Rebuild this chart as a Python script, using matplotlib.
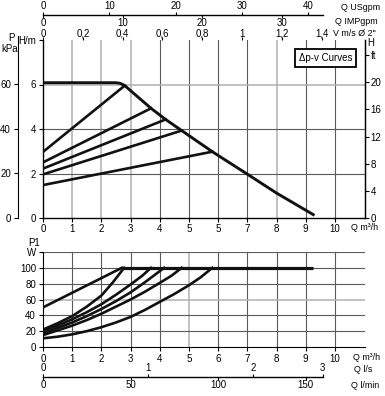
import matplotlib.pyplot as plt

plt.rcParams['font.family'] = ['Liberation Sans', 'DejaVu Sans']
plt.rcParams['font.size'] = 7

# ---- top chart: head H [m] against flow Q [m3/h] ----
max_q = [0, 2.5, 2.65, 2.8, 3.7, 4.2, 4.75, 5.8, 7.0, 8.0, 9.3]
max_h = [6.08, 6.08, 6.05, 5.95, 4.93, 4.43, 3.93, 2.98, 1.97, 1.12, 0.12]

# proportional pressure lines: head at Q=0 -> point on the max curve
dp_start_h = [2.97, 2.5, 2.22, 1.96, 1.48]
dp_end_q = [2.8, 3.7, 4.2, 4.75, 5.8]
dp_end_h = [5.95, 4.93, 4.43, 3.93, 2.98]

# ---- bottom chart: input power P1 [W] ----
p1_flat_q = [2.7, 9.25]
p1_flat_w = [100, 100]
p1_q = [
    [0, 2.7],
    [0, 0.5, 1, 1.5, 2, 2.4, 2.78],
    [0, 0.5, 1, 1.5, 2, 2.5, 3, 3.4, 3.7],
    [0, 0.5, 1, 1.5, 2, 2.5, 3, 3.5, 4.15],
    [0, 0.5, 1, 1.5, 2, 2.5, 3, 3.5, 4, 4.4, 4.75],
    [0, 0.5, 1, 1.5, 2, 2.5, 3, 3.5, 4, 4.5, 5, 5.4, 5.8],
]
p1_w = [
    [50, 100],
    [22, 30, 39, 51, 65, 82, 100],
    [20, 27, 35, 44, 54, 66, 79, 90, 100],
    [17, 24, 31, 39, 48, 58, 69, 82, 100],
    [15, 21, 27, 34, 42, 51, 60, 70, 81, 90, 100],
    [11, 13, 16, 20, 25, 31, 38, 47, 57, 67, 78, 88, 100],
]

q_ticks = list(range(0, 11))
top_q_labels = ['0', '1', '2', '3', '4', '5', '5', '7', '8', '9', '10']
h_ticks = [0, 2, 4, 6]
kpa_ticks = [0, 20, 40, 60]
ft_ticks = [0, 4, 8, 12, 16, 20]
w_ticks = [0, 20, 40, 60, 80, 100]

# secondary flow scales (value, position in m3/h)
usgpm_ticks = [0, 10, 20, 30, 40]
impgpm_ticks = [0, 10, 20, 30]
v_ticks = [0, 0.2, 0.4, 0.6, 0.8, 1.0, 1.2, 1.4]
v_labels = ['0', '0,2', '0,4', '0,6', '0,8', '1', '1,2', '1,4']
ls_ticks = [0, 1, 2, 3]
ls_pos = [0, 3.6, 7.2, 9.58]
lmin_ticks = [0, 50, 100, 150]

US_TO_Q = 0.2271
IMP_TO_Q = 0.2728
V_TO_Q = 6.82
LMIN_TO_Q = 0.06
M_TO_FT = 3.281

W, H = 385, 396
QMAX = 11.03
LEFT, WIDTH = 43 / W, 322 / W
DARK = '#5a5a5a'
LIGHT = '#b0b0b0'
SIDE = 6.4  # font size of the unit labels at the right


def fy(py):
    return 1 - py / H


def fx(px):
    return px / W


def scale_line(ypx, ticks_top, labels_top, ticks_bot, labels_bot):
    # thin axes used as a plain horizontal scale with ticks on both sides
    top = fig.add_axes([LEFT, fy(ypx), WIDTH, 0.0001])
    top.set_xlim(0, QMAX)
    top.set_yticks([])
    for s in ('left', 'right', 'bottom'):
        top.spines[s].set_visible(False)
    top.spines['top'].set_bounds(0, 9.6)
    top.spines['top'].set_linewidth(1.0)
    top.xaxis.set_ticks_position('top')
    top.set_xticks(ticks_top)
    top.set_xticklabels(labels_top)
    top.tick_params(length=2, width=0.8, pad=0.5)

    bot = fig.add_axes([LEFT, fy(ypx), WIDTH, 0.0001])
    bot.set_xlim(0, QMAX)
    bot.set_yticks([])
    bot.patch.set_visible(False)
    for s in ('left', 'right', 'top', 'bottom'):
        bot.spines[s].set_visible(False)
    bot.set_xticks(ticks_bot)
    bot.set_xticklabels(labels_bot)
    bot.tick_params(length=2, width=0.8, pad=0.3)


fig = plt.figure(figsize=(W / 100, H / 100), dpi=100)

# ================= top chart =================
ax1 = fig.add_axes([LEFT, fy(218), WIDTH, (218 - 40) / H])
ax1.set_xlim(0, QMAX)
ax1.set_ylim(0, 8)
for q in q_ticks[1:]:
    light = q in (1, 2, 3, 8)
    ax1.axvline(q, color=LIGHT if light else DARK, lw=1.1 if light else 0.8, zorder=1)
for h in h_ticks[1:]:
    light = h == 6
    ax1.axhline(h, color=LIGHT if light else DARK, lw=1.1 if light else 0.8, zorder=1)

ax1.plot(max_q, max_h, color='#111', lw=2.1, solid_capstyle='butt', zorder=3)
for h0, q1, h1 in zip(dp_start_h, dp_end_q, dp_end_h):
    ax1.plot([0, q1], [h0, h1], color='#111', lw=1.9, zorder=3)

ax1.spines['top'].set_visible(False)
for s in ('left', 'bottom', 'right'):
    ax1.spines[s].set_linewidth(1.0)
ax1.set_xticks(q_ticks)
ax1.set_xticklabels(top_q_labels)
ax1.set_yticks(h_ticks + [8])
ax1.set_yticklabels([str(v) for v in h_ticks] + ['H/m'])
ax1.tick_params(axis='x', length=3, width=0.8, pad=1)
ax1.tick_params(axis='y', length=3, width=0.8, pad=2)
fig.text(fx(378), fy(227.5), 'Q m³/h', ha='right', va='center', fontsize=SIDE)

ax1.text(0.96, 0.9, 'Δp-v Curves', transform=ax1.transAxes, ha='right', va='center',
         fontsize=7, bbox=dict(boxstyle='square,pad=0.4', fc='white', ec='black', lw=1.3))

# kPa axis on the far left
ax_kpa = ax1.twinx()
ax_kpa.set_ylim(0, 80)
ax_kpa.spines['right'].set_visible(False)
ax_kpa.spines['top'].set_visible(False)
ax_kpa.spines['bottom'].set_visible(False)
ax_kpa.spines['left'].set_visible(True)
ax_kpa.spines['left'].set_position(('axes', -25 / 322))
ax_kpa.spines['left'].set_bounds(0, 82)
ax_kpa.yaxis.set_ticks_position('left')
ax_kpa.set_yticks(kpa_ticks)
ax_kpa.tick_params(length=3, width=0.8, pad=2)
fig.text(fx(11), fy(38), 'P', ha='center', va='center')
fig.text(fx(10), fy(49), 'kPa', ha='center', va='center')

# ft axis on the right
ax_ft = ax1.twinx()
ax_ft.set_ylim(0, 8 * M_TO_FT)
for s in ('left', 'top', 'bottom'):
    ax_ft.spines[s].set_visible(False)
ax_ft.set_yticks(ft_ticks + [24])
ax_ft.set_yticklabels([str(v) for v in ft_ticks] + ['ft'])
ax_ft.tick_params(length=3, width=0.8, pad=1)
fig.text(fx(367), fy(43), 'H', ha='left', va='center')

# velocity scale on the top edge
ax_v = ax1.twiny()
ax_v.set_xlim(0, QMAX)
for s in ('left', 'right', 'bottom', 'top'):
    ax_v.spines[s].set_visible(False)
ax_v.set_xticks([v * V_TO_Q for v in v_ticks])
ax_v.set_xticklabels(v_labels)
ax_v.tick_params(length=2, width=0.8, pad=-1)
fig.text(fx(376), fy(33), 'V m/s Ø 2"', ha='right', va='center', fontsize=SIDE)

# US / IMP gpm scale
scale_line(15,
           [v * US_TO_Q for v in usgpm_ticks], [str(v) for v in usgpm_ticks],
           [v * IMP_TO_Q for v in impgpm_ticks], [str(v) for v in impgpm_ticks])
fig.text(fx(380), fy(7), 'Q USgpm', ha='right', va='center', fontsize=SIDE)
fig.text(fx(378), fy(22), 'Q IMPgpm', ha='right', va='center', fontsize=SIDE)

# ================= bottom chart =================
ax2 = fig.add_axes([LEFT, fy(347), WIDTH, (347 - 252) / H])
ax2.set_xlim(0, QMAX)
ax2.set_ylim(0, 120)
for q in q_ticks[1:]:
    light = q == 5
    ax2.axvline(q, color=LIGHT if light else DARK, lw=1.1 if light else 0.8, zorder=1)
for w in w_ticks[1:] + [120]:
    light = w == 60
    ax2.axhline(w, color=LIGHT if light else DARK, lw=1.1 if light else 0.8, zorder=1)

ax2.plot(p1_flat_q, p1_flat_w, color='#111', lw=2.3, solid_capstyle='butt', zorder=3)
for qs, ws in zip(p1_q, p1_w):
    ax2.plot(qs, ws, color='#111', lw=1.9, zorder=3)

ax2.spines['top'].set_visible(False)
ax2.spines['right'].set_visible(False)
ax2.set_xticks(q_ticks)
ax2.set_yticks(w_ticks + [120])
ax2.set_yticklabels([str(v) for v in w_ticks] + ['W'])
ax2.tick_params(length=3, width=0.8, pad=2)
fig.text(fx(380), fy(357), 'Q m³/h', ha='right', va='center', fontsize=SIDE)
fig.text(fx(34), fy(243), 'P1', ha='center', va='center')

# l/s and l/min scale
scale_line(377,
           ls_pos, [str(v) for v in ls_ticks],
           [v * LMIN_TO_Q for v in lmin_ticks], [str(v) for v in lmin_ticks])
fig.text(fx(372), fy(370), 'Q l/s', ha='right', va='center', fontsize=SIDE)
fig.text(fx(379), fy(386), 'Q l/min', ha='right', va='center', fontsize=SIDE)

fig.savefig('out.png', dpi=100)
